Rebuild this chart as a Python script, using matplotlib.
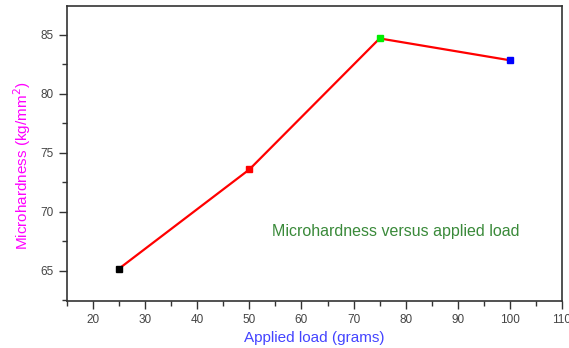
import matplotlib
matplotlib.use("Agg")
import matplotlib.pyplot as plt
from matplotlib.ticker import MultipleLocator

plt.rcParams['font.family'] = ['Liberation Sans', 'DejaVu Sans']

load = [25, 50, 75, 100]
hardness = [65.2, 73.6, 84.7, 82.85]
marker_colors = ['#000000', '#ff0000', '#00ee00', '#0000ff']

fig = plt.figure(figsize=(5.69, 3.48), dpi=100)
ax = fig.add_axes([0.1178, 0.135, 0.8699, 0.8478])

ax.plot(load, hardness, color='#ff0000', lw=1.6, zorder=2)
for x, y, c in zip(load, hardness, marker_colors):
    ax.plot([x], [y], marker='s', ms=5, color=c, mec=c, ls='none', zorder=3)

ax.set_xlim(15, 110)
ax.set_ylim(62.45, 87.45)
ax.xaxis.set_major_locator(MultipleLocator(10))
ax.xaxis.set_minor_locator(MultipleLocator(5))
ax.yaxis.set_major_locator(MultipleLocator(5))
ax.yaxis.set_minor_locator(MultipleLocator(2.5))
ax.tick_params(which='both', direction='out', color='#333333', width=1,
               labelsize=8.5, labelcolor='#444444', top=False, right=False)
ax.tick_params(which='major', length=6)
ax.tick_params(which='minor', length=3.5)
ax.set_xticks(range(20, 111, 10))
for s in ax.spines.values():
    s.set_color('#333333')
    s.set_linewidth(1.2)

ax.set_xlabel('Applied load (grams)', color='#4444ff', fontsize=11)
ax.xaxis.set_label_coords(0.5, -0.10)
ax.set_ylabel('Microhardness (kg/mm$^2$)', color='#ff00ff', fontsize=11)
ax.yaxis.set_label_coords(-0.068, 0.46)

ax.text(78.0, 68.3, 'Microhardness versus applied load', color='#3a8a3a',
        fontsize=11.5, va='center', ha='center')

fig.savefig('out.png', dpi=100)
